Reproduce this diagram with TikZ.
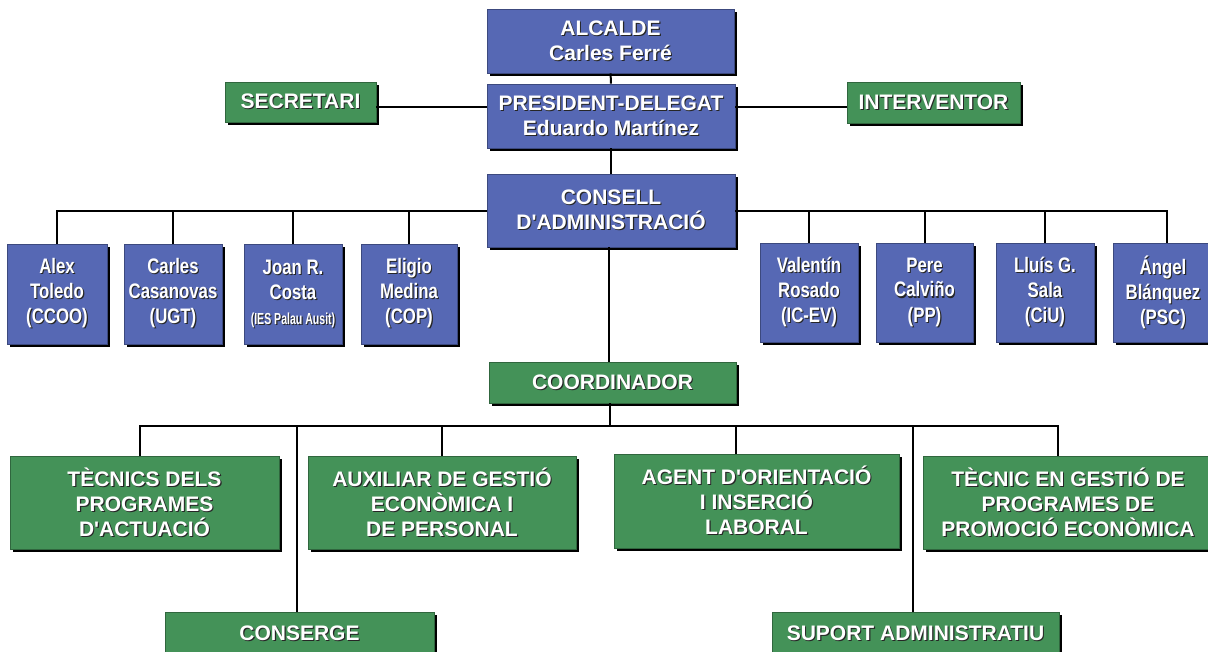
\documentclass[tikz,border=0pt]{standalone}
\usepackage{fontspec}
\setmainfont{Liberation Sans}
\newfontfamily\condfont[FakeStretch=0.80]{Liberation Sans}
\newfontfamily\narrowfont[FakeStretch=0.66]{Liberation Sans}
\usetikzlibrary{shadows}
\definecolor{boxblue}{RGB}{86,104,180}
\definecolor{boxgreen}{RGB}{68,146,88}
\newcommand\tsh[1]{\leavevmode\rlap{\hspace{1.1pt}\raisebox{-1.1pt}{\textcolor{black!85}{#1}}}\textcolor{white}{#1}}
\newcommand\ap{\textquotesingle}
\tikzset{
  basebox/.style={rectangle, inner sep=0pt, align=center, line width=0.6pt,
    font=\bfseries\fontsize{21}{25}\selectfont, text=white,
    drop shadow={shadow xshift=3pt, shadow yshift=-3pt, opacity=1, fill=black}},
  bluebox/.style={basebox, fill=boxblue, draw=boxblue!70!black},
  greenbox/.style={basebox, fill=boxgreen, draw=boxgreen!70!black},
  member/.style={bluebox, font=\condfont\bfseries\fontsize{21}{25}\selectfont},
  conn/.style={line width=2pt, draw=black}
}
\begin{document}
\begin{tikzpicture}[x=1pt, y=-1pt]
\useasboundingbox (0,0) rectangle (1208,651);
% top blue boxes
\node[bluebox, minimum width=247pt, minimum height=64pt] (alc) at (610.5,41) {\tsh{ALCALDE}\\\tsh{Carles Ferré}};
\node[bluebox, minimum width=248pt, minimum height=64pt] (pres) at (611,116) {\tsh{PRESIDENT-DELEGAT}\\\tsh{Eduardo Martínez}};
\node[bluebox, minimum width=248pt, minimum height=73pt] (cons) at (611,210.5) {\tsh{CONSELL}\\\tsh{D\ap ADMINISTRACIÓ}};
% side green boxes
\node[greenbox, minimum width=151pt, minimum height=40pt] (sec) at (300.5,102) {\tsh{SECRETARI}};
\node[greenbox, minimum width=173pt, minimum height=41pt] (int) at (933.5,102.5) {\tsh{INTERVENTOR}};
% members
\node[member, minimum width=100pt, minimum height=100pt] (m1) at (57,294) {\tsh{Alex}\\\tsh{Toledo}\\\tsh{(CCOO)}};
\node[member, minimum width=98pt, minimum height=100pt] (m2) at (173,294) {\tsh{Carles}\\\tsh{Casanovas}\\\tsh{(UGT)}};
\node[member, minimum width=98pt, minimum height=100pt] (m3) at (293,294) {\tsh{Joan R.}\\\tsh{Costa}\\{\narrowfont\fontsize{16}{25}\selectfont\tsh{(IES Palau Ausit)}}};
\node[member, minimum width=96pt, minimum height=100pt] (m4) at (409,294) {\tsh{Eligio}\\\tsh{Medina}\\\tsh{(COP)}};
\node[member, minimum width=98pt, minimum height=99pt] (m5) at (809,292.5) {\tsh{Valentín}\\\tsh{Rosado}\\\tsh{(IC-EV)}};
\node[member, minimum width=97pt, minimum height=99pt] (m6) at (924.5,292.5) {\tsh{Pere}\\\tsh{Calviño}\\\tsh{(PP)}};
\node[member, minimum width=98pt, minimum height=99pt] (m7) at (1045,292.5) {\tsh{Lluís G.}\\\tsh{Sala}\\\tsh{(CiU)}};
\node[member, minimum width=100pt, minimum height=99pt] (m8) at (1163,292.5) {\tsh{Ángel}\\\tsh{Blánquez}\\\tsh{(PSC)}};
% coordinator and staff
\node[greenbox, minimum width=247pt, minimum height=41pt] (coord) at (612.5,382.5) {\tsh{COORDINADOR}};
\node[greenbox, minimum width=269pt, minimum height=93pt] (g1) at (144.5,502.5) {\tsh{TÈCNICS DELS}\\\tsh{PROGRAMES}\\\tsh{D\ap ACTUACIÓ}};
\node[greenbox, minimum width=268pt, minimum height=93pt] (g2) at (442,502.5) {\tsh{AUXILIAR DE GESTIÓ}\\\tsh{ECONÒMICA I}\\\tsh{DE PERSONAL}};
\node[greenbox, minimum width=285pt, minimum height=94pt] (g3) at (756.5,501) {\tsh{AGENT D\ap ORIENTACIÓ}\\\tsh{I INSERCIÓ}\\\tsh{LABORAL}};
\node[greenbox, minimum width=290pt, minimum height=93pt] (g4) at (1068,502.5) {\tsh{TÈCNIC EN GESTIÓ DE}\\\tsh{PROGRAMES DE}\\\tsh{PROMOCIÓ ECONÒMICA}};
\node[greenbox, minimum width=269pt, minimum height=44pt] (cons2) at (299.5,634) {\tsh{CONSERGE}};
\node[greenbox, minimum width=287pt, minimum height=44pt] (sup) at (915.5,634) {\tsh{SUPORT ADMINISTRATIU}};
\coordinate (bus2) at (610,426);
% connectors
\draw[conn] (alc) -- (pres);
\draw[conn] ([yshift=-5pt]sec.east) -- ([yshift=-5pt]sec.east -| pres.west);
\draw[conn] ([yshift=-4.5pt]int.west) -- ([yshift=-4.5pt]int.west -| pres.east);
\draw[conn] (pres) -- (cons);
\draw[conn] (m1.north) |- (cons.west);
\draw[conn] (m2.north) |- (cons.west);
\draw[conn] (m3.north) |- (cons.west);
\draw[conn] (m4.north) |- (cons.west);
\draw[conn] (m5.north) |- (cons.east);
\draw[conn] (m6.north) |- (cons.east);
\draw[conn] (m7.north) |- (cons.east);
\draw[conn] ([xshift=4pt]m8.north) |- (cons.east);
\draw[conn] ([xshift=-2.5pt]cons.south) -- ([xshift=-2.5pt]cons.south |- coord.north);
\draw[conn] ([xshift=-2.5pt]coord.south) -- (bus2);
\draw[conn] ([xshift=-4.5pt]g1.north) |- (bus2);
\draw[conn] (g2.north) |- (bus2);
\draw[conn] ([xshift=-20.5pt]g3.north) |- (bus2);
\draw[conn] ([xshift=-10pt]g4.north) |- (bus2);
\draw[conn] ([xshift=-2.5pt]cons2.north) |- (bus2);
\draw[conn] ([xshift=-2.5pt]sup.north) |- (bus2);
\end{tikzpicture}
\end{document}
